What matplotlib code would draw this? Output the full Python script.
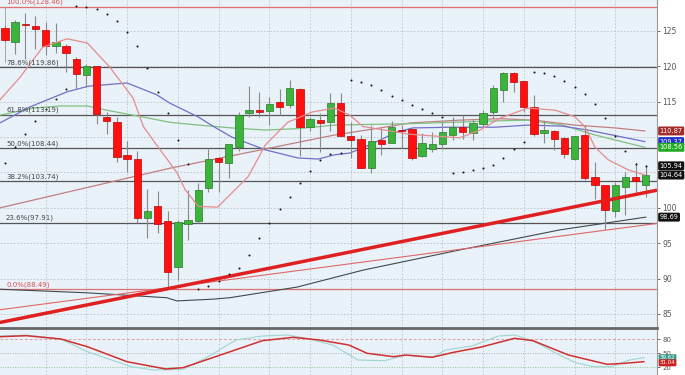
import matplotlib.pyplot as plt
import matplotlib.transforms as mtransforms
import numpy as np

# daily candles
opens = [125.4, 123.4, 126.0, 125.75, 125.1, 122.9, 122.9, 121.1, 118.8, 120.0,
         112.9, 112.2, 107.5, 106.9, 98.5, 100.3, 98.1, 91.7, 97.7, 98.2,
         102.85, 107.0, 106.4, 108.55, 113.45, 113.9, 113.7, 114.9, 114.6, 116.8,
         111.5, 112.4, 112.1, 114.8, 110.1, 109.7, 105.6, 109.6, 109.2, 110.9,
         111.1, 107.3, 108.3, 109.0, 110.3, 111.5, 110.6, 111.8, 113.5, 116.6,
         119.1, 117.9, 114.3, 110.6, 110.8, 109.9, 106.85, 110.3, 104.3, 103.2,
         99.6, 102.9, 104.3, 103.2]
highs = [125.8, 126.55, 127.5, 127.15, 126.3, 126.1, 123.2, 121.3, 120.3, 120.1,
         113.6, 112.8, 109.4, 108.1, 102.6, 102.4, 99.6, 98.3, 102.5, 103.5,
         108.3, 107.2, 109.0, 113.6, 117.2, 116.4, 115.7, 116.75, 118.1, 117.0,
         112.8, 113.4, 116.2, 116.3, 112.2, 110.3, 111.7, 111.25, 112.3, 111.7,
         111.25, 110.6, 110.75, 112.2, 112.9, 113.1, 112.5, 113.8, 117.4, 119.2,
         119.25, 118.0, 115.95, 112.3, 111.0, 110.0, 110.2, 111.7, 106.5, 103.3,
         103.6, 105.0, 106.3, 106.1]
lows = [123.4, 121.75, 121.1, 122.45, 121.6, 121.85, 119.2, 116.8, 117.1, 111.85,
        110.4, 106.5, 105.1, 97.8, 95.7, 96.4, 88.49, 89.8, 95.5, 97.8,
        102.3, 102.3, 104.2, 108.1, 112.9, 112.9, 111.7, 113.1, 114.1, 107.3,
        110.8, 107.9, 110.8, 110.2, 107.0, 105.6, 104.9, 107.5, 109.1, 108.5,
        106.7, 107.25, 107.9, 108.3, 109.6, 109.8, 109.6, 111.5, 112.7, 115.0,
        116.4, 113.6, 110.1, 109.2, 108.2, 107.0, 106.8, 103.9, 101.2, 96.9,
        98.75, 99.0, 102.1, 101.6]
closes = [123.7, 126.2, 125.9, 125.25, 122.9, 123.5, 121.9, 118.9, 120.0, 113.3,
          112.3, 107.2, 106.9, 98.5, 99.55, 97.7, 91.0, 98.0, 98.3, 102.5,
          106.9, 106.5, 109.0, 113.1, 113.9, 113.6, 114.7, 114.3, 116.9, 111.5,
          112.5, 112.0, 114.8, 110.2, 109.6, 105.7, 109.5, 109.0, 111.5, 110.8,
          107.0, 109.1, 109.0, 110.75, 111.4, 110.7, 112.0, 113.4, 116.9, 119.0,
          117.75, 114.2, 110.45, 111.0, 109.8, 107.6, 110.2, 104.2, 103.2, 99.7,
          103.2, 104.3, 103.8, 104.64]

# parabolic SAR dots
sar = [106.3, 108.6, 110.4, 112.3, 114.0, 115.4, 116.8, 128.55, 128.35, 128.1,
       127.4, 126.4, 124.8, 122.9, 119.8, 116.4, 113.45, 109.6, 106.2, 88.6,
       88.9, 89.7, 90.6, 91.5, 93.3, 95.7, 97.9, 99.8, 101.6, 103.5,
       105.2, 106.8, 107.6, 107.8, 118.1, 117.85, 117.4, 116.7, 115.8, 115.25,
       114.6, 114.0, 113.45, 112.9, 104.9, 105.0, 105.35, 105.7, 106.1, 107.0,
       108.3, 109.35, 119.25, 119.0, 118.7, 118.0, 117.1, 116.1, 114.7, 112.75,
       110.2, 108.1, 106.2, 105.94]

# moving averages (bar position, price)
pink_x = [-0.5, 1.5, 3.7, 6.1, 8.1, 10.3, 12.6, 13.6, 14.9, 16.9, 17.7, 19.0, 20.9,
          23.9, 25.6, 27.8, 30.2, 32.4, 33.9, 35.2, 39.8, 44.7, 46.7, 48.7, 51.4,
          54.1, 56.0, 57.0, 58.0, 59.3, 61.3, 62.9]
pink_y = [115.25, 118.5, 122.7, 123.9, 123.3, 119.9, 115.5, 111.5, 108.9, 105.0,
          102.6, 100.2, 100.1, 104.4, 108.9, 112.1, 113.55, 114.1, 113.1, 111.5,
          110.4, 109.9, 111.0, 112.7, 114.1, 113.8, 112.9, 111.5, 108.6, 106.8,
          105.35, 104.65]
blue_x = [-0.5, 2.5, 6.1, 8.2, 12.0, 14.9, 16.2, 19.0, 20.5, 22.3, 25.6, 28.8, 30.8,
          32.4, 33.9, 35.2, 36.9, 38.5, 40.1, 43.8, 48.2, 51.4, 54.8, 57.3, 59.7, 62.9]
blue_y = [112.0, 114.3, 116.4, 117.2, 117.65, 116.0, 114.8, 112.85, 111.5, 110.0,
          108.2, 107.05, 106.9, 107.5, 107.75, 108.5, 109.6, 110.7, 111.3, 111.4,
          111.4, 111.7, 111.55, 111.0, 110.3, 109.37]
green_x = [-0.5, 2.8, 5.4, 8.1, 10.0, 12.6, 16.2, 19.0, 22.3, 25.6, 28.8, 32.4, 39.8,
           48.4, 51.4, 54.8, 58.0, 62.9]
green_y = [113.1, 114.1, 114.4, 114.4, 113.8, 113.1, 112.1, 111.7, 111.3, 111.0,
           111.2, 111.7, 111.9, 112.3, 112.4, 111.7, 110.3, 108.56]
mauve_x = [-0.5, 16.2, 32.4, 36.9, 39.8, 44.7, 48.7, 52.0, 56.0, 60.0, 62.9]
mauve_y = [100.0, 105.6, 110.3, 111.3, 112.0, 112.4, 112.6, 112.4, 111.7, 111.3, 110.87]
dark_x = [-0.5, 8.0, 15.9, 16.9, 20.5, 22.1, 28.7, 35.2, 44.7, 54.6, 63.0]
dark_y = [88.5, 88.0, 87.3, 86.85, 87.1, 87.3, 88.8, 91.2, 94.05, 96.9, 98.69]

# trend lines (start/end)
thick_x = [-0.5, 64.1]
thick_y = [83.8, 102.5]
thin_x = [-0.5, 64.1]
thin_y = [85.6, 97.8]

# fibonacci retracement
fib_levels = [128.46, 119.86, 113.19, 108.44, 103.74, 97.91, 88.49]
fib_labels = ["100.0%(128.46)", "78.6%(119.86)", "61.8%(113.19)", "50.0%(108.44)",
              "38.2%(103.74)", "23.6%(97.91)", "0.0%(88.49)"]

# right hand value tags
tag_vals = [110.87, 109.37, 108.56, 105.94, 104.64, 98.69]
tag_cols = ["#a52a2a", "#2233cc", "#22aa22", "#111111", "#111111", "#111111"]

# stochastic
stoch_x = [-0.5, 2.1, 5.5, 8.1, 12.0, 15.8, 17.5, 20.9, 25.3, 28.3, 30.9, 33.8, 35.6,
           38.2, 39.4, 42.0, 44.1, 46.7, 50.1, 51.9, 55.4, 59.2, 60.9, 62.8]
stoch_d = [84.9, 87.1, 80.0, 63.5, 31.4, 15.8, 18.6, 43.6, 76.4, 83.6, 77.9, 67.2,
           49.4, 42.1, 45.7, 40.8, 51.5, 62.2, 81.5, 76.4, 45.7, 25.8, 27.9, 31.4]
stochk_x = [-0.5, 2.1, 5.5, 8.1, 12.4, 14.6, 17.5, 19.7, 22.7, 25.3, 27.8, 29.6, 32.2,
            34.7, 37.3, 39.4, 42.0, 43.3, 45.9, 48.5, 50.1, 51.9, 54.5, 56.1, 57.9,
            59.6, 61.4, 62.8]
stoch_k = [86.5, 88.5, 80.0, 52.8, 20.7, 13.6, 15.0, 38.7, 77.9, 86.4, 88.6, 81.5,
           67.2, 35.0, 33.5, 45.7, 40.8, 56.4, 65.0, 86.4, 88.6, 76.4, 45.7, 29.3,
           20.7, 20.7, 35.0, 40.0]
stoch_tags = [(40.0, "39.62", "#3a9a8a"), (29.0, "31.04", "#cc2222")]

vgrid = [4, 8, 12, 17, 21, 26, 30, 34, 39, 43, 47, 51, 56, 60]

fig = plt.figure(figsize=(6.85, 3.75), dpi=100)
fig.patch.set_facecolor("white")
ax = fig.add_axes([0, 47 / 375, 657 / 685, 328 / 375])
ax2 = fig.add_axes([0, 0, 657 / 685, 45 / 375])

bg = "#e9f1f9"
for a in (ax, ax2):
    a.set_facecolor(bg)
    a.set_xlim(-0.49, 64.1)
    a.spines["top"].set_visible(False)
    a.spines["left"].set_visible(False)
    a.spines["right"].set_color("#999999")
    a.spines["right"].set_linewidth(0.8)
    a.yaxis.tick_right()
    a.tick_params(axis="y", labelsize=5.5, colors="#555555", length=2, pad=2, width=0.6)
    a.set_xticks([])
    for g in vgrid:
        a.axvline(g, color="#bcc2ca", lw=0.6, ls=(0, (2, 2)), zorder=0)

ax.spines["bottom"].set_color("#666666")
ax.spines["bottom"].set_linewidth(2)
ax2.spines["bottom"].set_visible(False)

ax.set_ylim(83.02, 129.38)
# 105 and 110 sit under the value tags
ax.set_yticks([85, 90, 95, 100, 115, 120, 125])
for lv in [85, 90, 95, 100, 105, 110, 115, 120, 125]:
    ax.axhline(lv, color="#bcc2ca", lw=0.6, ls=(0, (2, 2)), zorder=0)

# fib lines and labels
for lv, lab in zip(fib_levels, fib_labels):
    edge = lab.startswith(("100", "0.0"))
    ax.axhline(lv, color="#e07070" if edge else "#555555", lw=0.9, zorder=1)
    ax.text(0.1, lv + 0.2, lab, fontsize=5, color="#e05050" if edge else "#444444",
            va="bottom", ha="left", zorder=6)
ax.plot([0, 0], [128.46, 120.6], color="#999999", lw=0.6, zorder=1)

# moving averages
ax.plot(mauve_x, mauve_y, color="#c08080", lw=0.9, zorder=2)
ax.plot(dark_x, dark_y, color="#404850", lw=0.8, zorder=2)
ax.plot(green_x, green_y, color="#80c080", lw=0.9, zorder=2)
ax.plot(blue_x, blue_y, color="#7070c8", lw=0.9, zorder=2)

# candles
idx = np.arange(len(opens))
o = np.array(opens)
c = np.array(closes)
up = c >= o
ax.vlines(idx, lows, highs, color="#8a8a8a", lw=0.8, zorder=3)
bottoms = np.minimum(o, c)
heights = np.maximum(np.abs(c - o), 0.15)
ax.bar(idx[up], heights[up], bottom=bottoms[up], width=0.72,
       color="#3cb43c", edgecolor="#2a7a2a", linewidth=0.5, zorder=4)
ax.bar(idx[~up], heights[~up], bottom=bottoms[~up], width=0.72,
       color="#ff1010", edgecolor="#c00000", linewidth=0.5, zorder=4)

ax.plot(pink_x, pink_y, color="#e58c8c", lw=0.9, zorder=5)

# trend lines
ax.plot(thin_x, thin_y, color="#e06868", lw=0.8, zorder=5)
ax.plot(thick_x, thick_y, color="#e02020", lw=2.5, zorder=5, solid_capstyle="butt")

# SAR
ax.scatter(idx, sar, s=2.2, color="#1a1a1a", zorder=6, linewidths=0)

# value tags
trans = mtransforms.blended_transform_factory(ax.transAxes, ax.transData)
for v, col in zip(tag_vals, tag_cols):
    ax.text(1.004, v, f"{v:.2f}", transform=trans, fontsize=4.8, color="white",
            ha="left", va="center", clip_on=False, zorder=10,
            bbox=dict(boxstyle="round,pad=0.22,rounding_size=0.2", fc=col, ec="none"))

# stochastic panel
ax2.set_ylim(2.9, 99.3)
ax2.set_yticks([20, 50, 80])
ax2.tick_params(axis="y", labelsize=5)
ax2.axhline(80, color="#e0a0a0", lw=0.7, ls=(0, (3, 2)), zorder=1)
ax2.axhline(50, color="#b0b0b0", lw=0.7, ls=(0, (1, 1.5)), zorder=1)
ax2.axhline(20, color="#90c890", lw=0.7, ls=(0, (1, 1.5)), zorder=1)
ax2.plot(stochk_x, stoch_k, color="#9fd6d0", lw=0.8, zorder=2)
ax2.plot(stoch_x, stoch_d, color="#d03030", lw=1.1, zorder=3)
trans2 = mtransforms.blended_transform_factory(ax2.transAxes, ax2.transData)
for v, txt, col in stoch_tags:
    ax2.text(1.004, v, txt, transform=trans2, fontsize=4, color="white",
             ha="left", va="center", clip_on=False, zorder=10,
             bbox=dict(boxstyle="round,pad=0.18", fc=col, ec="none"))

fig.savefig("out.png", dpi=100, facecolor="white")
